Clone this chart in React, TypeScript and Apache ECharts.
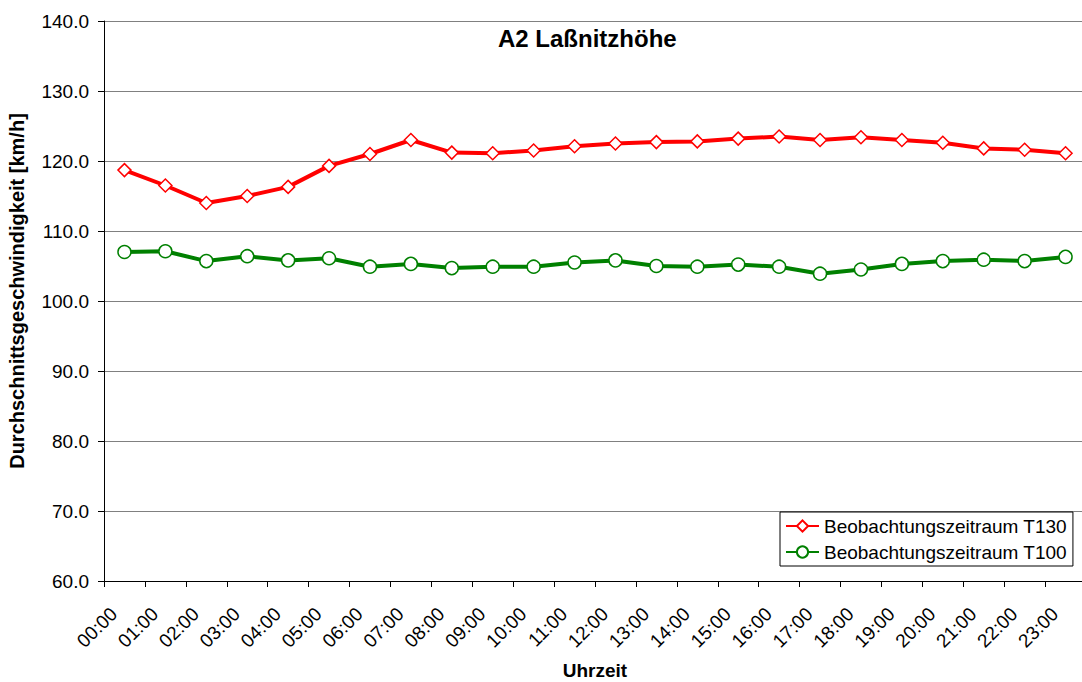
import React, { useEffect, useRef } from "react";
import * as echarts from "echarts";

const hours: string[] = [
  "00:00", "01:00", "02:00", "03:00", "04:00", "05:00", "06:00", "07:00",
  "08:00", "09:00", "10:00", "11:00", "12:00", "13:00", "14:00", "15:00",
  "16:00", "17:00", "18:00", "19:00", "20:00", "21:00", "22:00", "23:00",
];

const t130: number[] = [
  118.7, 116.5, 114.0, 115.0, 116.3, 119.3, 121.0, 123.0,
  121.2, 121.1, 121.5, 122.1, 122.5, 122.7, 122.8, 123.2,
  123.5, 123.0, 123.4, 123.0, 122.6, 121.8, 121.6, 121.1,
];

const t100: number[] = [
  107.0, 107.1, 105.7, 106.4, 105.8, 106.1, 104.9, 105.3,
  104.7, 104.9, 104.9, 105.5, 105.8, 105.0, 104.9, 105.2,
  104.9, 103.9, 104.5, 105.3, 105.7, 105.9, 105.7, 106.3,
];

const seriesNames: string[] = ["Beobachtungszeitraum T130", "Beobachtungszeitraum T100"];
const titleText = "A2 Laßnitzhöhe";
const yName = "Durchschnittsgeschwindigkeit [km/h]";
const xName = "Uhrzeit";

const FONT = "Arial, 'Liberation Sans', sans-serif";

export default function App() {
  const ref = useRef<HTMLDivElement>(null);
  useEffect(() => {
    if (!ref.current) return;
    const chart = echarts.init(ref.current, undefined, { renderer: "svg" });
    chart.setOption({
      animation: false,
      backgroundColor: "#ffffff",
      textStyle: { fontFamily: FONT },
      title: {
        text: titleText,
        left: 498,
        top: 26,
        padding: 0,
        textStyle: { fontFamily: FONT, fontSize: 24, fontWeight: "bold", color: "#000" },
      },
      legend: {
        orient: "vertical",
        left: 780,
        top: 512,
        padding: [4, 6, 4, 5],
        itemWidth: 33,
        itemHeight: 14,
        itemGap: 6,
        borderColor: "#000",
        borderWidth: 1,
        backgroundColor: "#fff",
        borderRadius: 0,
        textStyle: { fontFamily: FONT, fontSize: 19, color: "#000", lineHeight: 20 },
        data: seriesNames,
      },
      grid: {
        left: 104,
        right: -4,
        top: 21,
        bottom: 101,
        containLabel: false,
        outerBoundsMode: "none",
      },
      xAxis: {
        type: "category",
        data: hours,
        boundaryGap: true,
        name: xName,
        nameLocation: "middle",
        nameGap: 80,
        nameTextStyle: { fontFamily: FONT, fontSize: 19, fontWeight: "bold", color: "#000" },
        axisLine: { show: true, lineStyle: { color: "#000", width: 1 } },
        axisTick: { show: true, alignWithLabel: false, interval: 0, length: 6, lineStyle: { color: "#000" } },
        axisLabel: {
          interval: 0,
          rotate: 45,
          margin: 19,
          padding: [0, 15, 0, 0],
          fontFamily: FONT,
          fontSize: 19,
          color: "#000",
        },
        splitLine: { show: false },
      },
      yAxis: {
        type: "value",
        min: 60,
        max: 140,
        interval: 10,
        name: yName,
        nameLocation: "middle",
        nameGap: 77,
        nameTextStyle: {
          fontFamily: FONT,
          fontSize: 20,
          fontWeight: "bold",
          color: "#000",
          padding: [0, 0, 0, 20],
        },
        axisLine: { show: true, lineStyle: { color: "#000", width: 1 } },
        axisTick: { show: true, length: 6, lineStyle: { color: "#000" } },
        axisLabel: {
          margin: 15,
          fontFamily: FONT,
          fontSize: 19,
          color: "#000",
          formatter: (v: number) => v.toFixed(1),
        },
        splitLine: { show: true, lineStyle: { color: "#808080", width: 1 } },
      },
      series: [
        {
          name: seriesNames[0],
          type: "line",
          data: t130,
          symbol: "diamond",
          symbolSize: 13,
          showAllSymbol: true,
          lineStyle: { color: "#ff0000", width: 4 },
          itemStyle: { color: "#ffffff", borderColor: "#ff0000", borderWidth: 1.5 },
          emphasis: { disabled: true },
          z: 3,
        },
        {
          name: seriesNames[1],
          type: "line",
          data: t100,
          symbol: "circle",
          symbolSize: 13,
          showAllSymbol: true,
          lineStyle: { color: "#008000", width: 4 },
          itemStyle: { color: "#ffffff", borderColor: "#008000", borderWidth: 1.5 },
          emphasis: { disabled: true },
          z: 2,
        },
      ],
    });
    return () => chart.dispose();
  }, []);
  return (
    <div
      ref={ref}
      style={{ position: "absolute", left: 0, top: 0, width: 1082, height: 682 }}
    />
  );
}
